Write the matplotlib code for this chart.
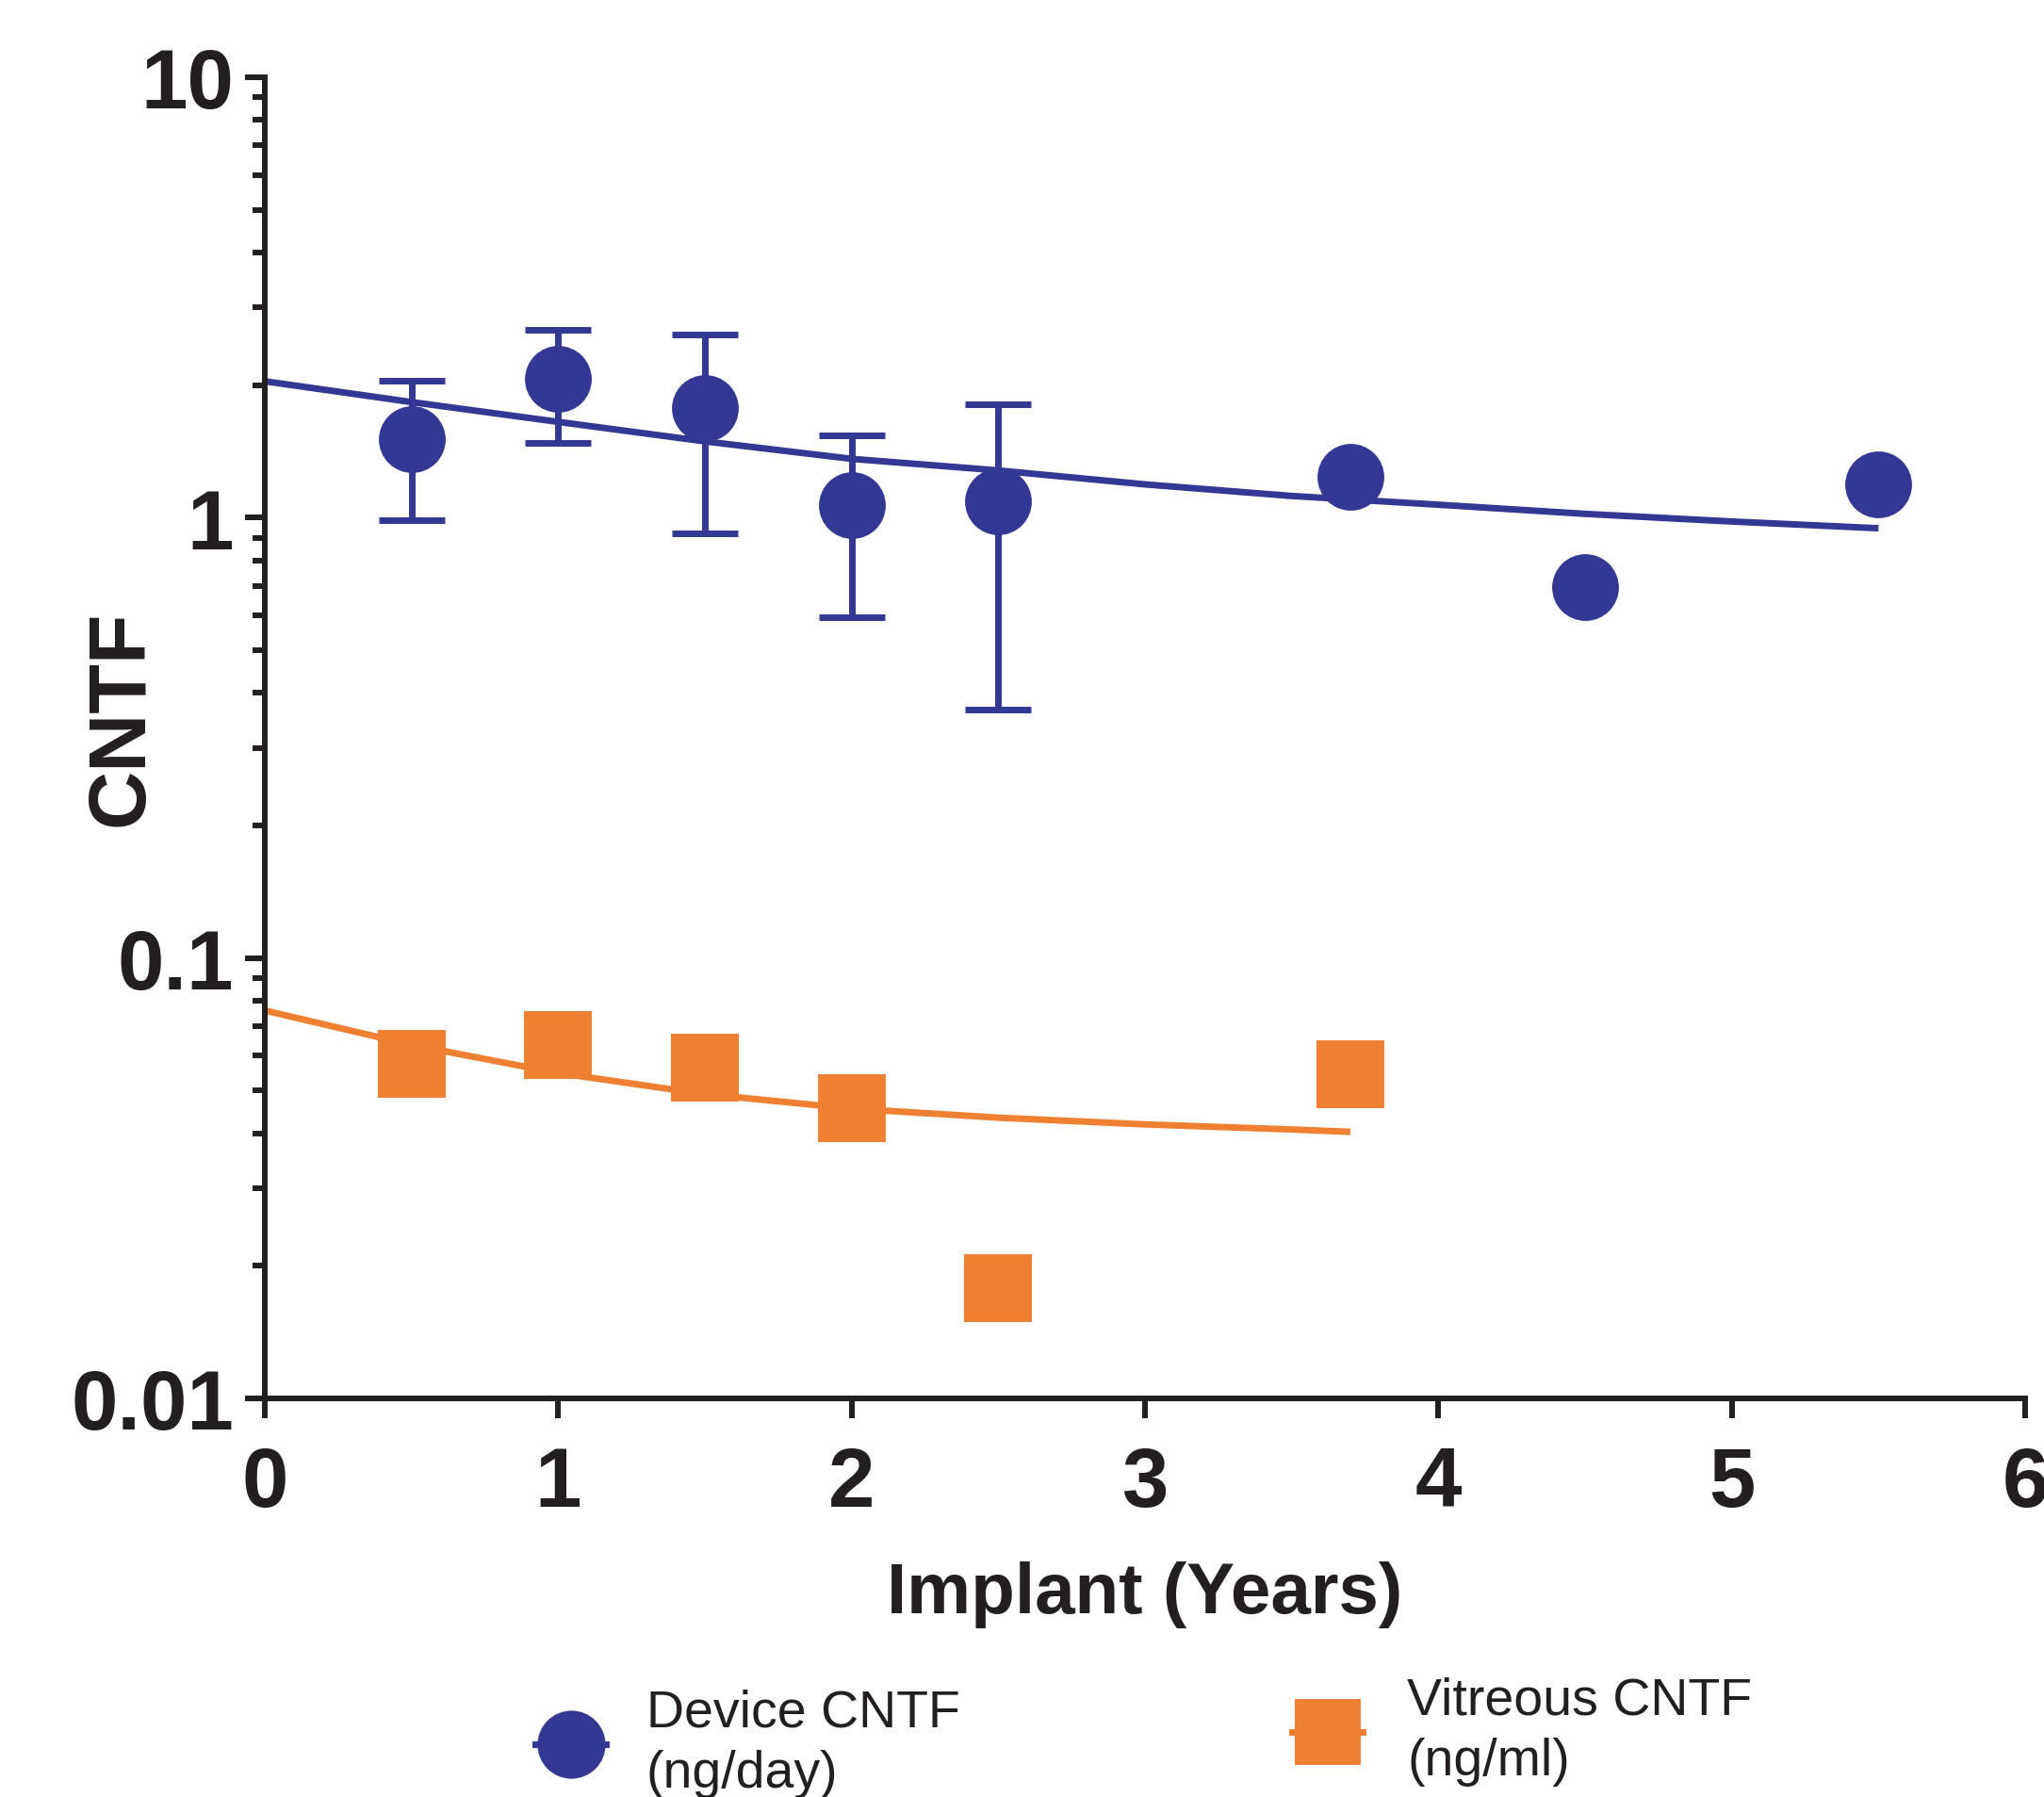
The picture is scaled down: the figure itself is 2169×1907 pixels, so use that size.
import matplotlib
matplotlib.use('Agg')
import matplotlib.pyplot as plt
from matplotlib.lines import Line2D
from matplotlib.ticker import LogLocator, NullFormatter

plt.rcParams['font.family'] = ['Liberation Sans', 'DejaVu Sans']

BLUE = '#323894'
ORANGE = '#EF8031'
INK = '#231F20'

# ---- data ----
device_x = [0.5, 1.0, 1.5, 2.0, 2.5, 3.7, 4.5, 5.5]
device_y = [1.51, 2.07, 1.77, 1.07, 1.09, 1.24, 0.695, 1.19]

err_x = [0.5, 1.0, 1.5, 2.0, 2.5]
err_y = [1.51, 2.07, 1.77, 1.07, 1.09]
err_low = [0.985, 1.48, 0.92, 0.594, 0.366]
err_high = [2.05, 2.67, 2.61, 1.54, 1.81]

vitreous_x = [0.5, 1.0, 1.5, 2.0, 2.5, 3.7]
vitreous_y = [0.0575, 0.0635, 0.0563, 0.0455, 0.0178, 0.0544]

device_fit_x = [0.0, 0.5, 1.0, 1.5, 2.0, 2.5, 3.0, 3.5, 4.0, 4.5, 5.0, 5.5]
device_fit_y = [2.04, 1.83, 1.65, 1.49, 1.36, 1.28, 1.19, 1.12, 1.07, 1.02, 0.98, 0.946]

vitreous_fit_x = [0.0, 0.5, 1.0, 1.5, 2.0, 2.5, 3.0, 3.5, 3.7]
vitreous_fit_y = [0.076, 0.0635, 0.0548, 0.0491, 0.0455, 0.0434, 0.0419, 0.0408, 0.0403]

x_ticks = [0, 1, 2, 3, 4, 5, 6]
x_tick_labels = ['0', '1', '2', '3', '4', '5', '6']
y_ticks = [0.01, 0.1, 1, 10]
y_tick_labels = ['0.01', '0.1', '1', '10']

legend_labels = ['Device CNTF\n(ng/day)', 'Vitreous CNTF\n(ng/ml)']

# ---- figure ----
W, H = 2169, 1908
fig = plt.figure(figsize=(W / 100, H / 100), dpi=100)
ax = fig.add_axes([281 / W, 1 - 1485 / H, 1868 / W, 1402 / H])

ax.set_yscale('log')
ax.set_xlim(0, 6)
ax.set_ylim(0.01, 10)

# fit curves
ax.plot(device_fit_x, device_fit_y, color=BLUE, lw=5, zorder=2, solid_capstyle='butt')
ax.plot(vitreous_fit_x, vitreous_fit_y, color=ORANGE, lw=5, zorder=2, solid_capstyle='butt')

# error bars
yerr = [[m - lo for m, lo in zip(err_y, err_low)], [hi - m for m, hi in zip(err_y, err_high)]]
ax.errorbar(err_x, err_y, yerr=yerr, fmt='none', ecolor=BLUE, elinewidth=5,
            capsize=25, capthick=5, zorder=3)

# markers
ax.plot(device_x, device_y, ls='none', marker='o', markersize=51, mew=0, color=BLUE, zorder=4)
ax.plot(vitreous_x, vitreous_y, ls='none', marker='s', markersize=52, mew=0, color=ORANGE, zorder=4)

# spines
for s in ['top', 'right']:
    ax.spines[s].set_visible(False)
for s in ['left', 'bottom']:
    ax.spines[s].set_linewidth(4.3)
    ax.spines[s].set_color(INK)

ax.set_xticks(x_ticks)
ax.set_xticklabels(x_tick_labels, fontweight='bold', fontsize=64, color=INK)
ax.set_yticks(y_ticks)
ax.set_yticklabels(y_tick_labels, fontweight='bold', fontsize=64, color=INK)
ax.yaxis.set_minor_locator(LogLocator(base=10, subs=range(2, 10)))
ax.yaxis.set_minor_formatter(NullFormatter())

ax.tick_params(axis='both', which='major', direction='out', length=15, width=4.3, color=INK)
ax.tick_params(axis='y', which='minor', direction='out', length=9.4, width=4.3, color=INK)
ax.tick_params(axis='x', which='major', pad=20)
ax.tick_params(axis='y', which='major', pad=8.6)

ax.set_xlabel('Implant (Years)', fontsize=55, fontweight='bold', color=INK)
ax.xaxis.label.set_va('baseline')
ax.xaxis.set_label_coords(0.5, -(1712 - 1485) / 1402)

ax.set_ylabel('CNTF', fontsize=62, fontweight='bold', color=INK)
ax.yaxis.label.set_va('baseline')
ax.yaxis.set_label_coords(-(281 - 151) / 1868, (1485 - 762) / 1402)

# legend
h1 = Line2D([], [], color=BLUE, marker='o', markersize=52, mew=0, lw=5)
h2 = Line2D([], [], color=ORANGE, marker='s', markersize=50, mew=0, lw=5)
leg1 = fig.legend(handles=[h1], labels=[legend_labels[0]], loc='center left',
                  bbox_to_anchor=(568 / W, 1 - 1851 / H), frameon=False, fontsize=40,
                  handlelength=1.35, handletextpad=0.77, borderpad=0, borderaxespad=0,
                  labelcolor=INK)
leg2 = fig.legend(handles=[h2], labels=[legend_labels[1]], loc='center left',
                  bbox_to_anchor=(1371 / W, 1 - 1838 / H), frameon=False, fontsize=40,
                  handlelength=1.35, handletextpad=0.85, borderpad=0, borderaxespad=0,
                  labelcolor=INK)
for lg in (leg1, leg2):
    for t in lg.get_texts():
        t.set_linespacing(1.32)

fig.savefig('out.png', dpi=100)
